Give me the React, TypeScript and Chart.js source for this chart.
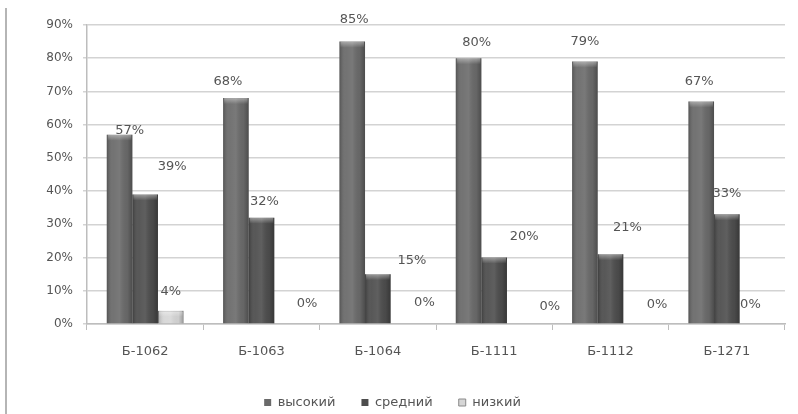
import React, { useEffect, useRef } from "react";
import { Chart, registerables } from "chart.js";

Chart.register(...registerables);

const categories = ["Б-1062", "Б-1063", "Б-1064", "Б-1111", "Б-1112", "Б-1271"];
const seriesNames = ["высокий", "средний", "низкий"];
const highValues = [57, 68, 85, 80, 79, 67];
const midValues = [39, 32, 15, 20, 21, 33];
const lowValues = [4, 0, 0, 0, 0, 0];
const yMax = 90;
const yStep = 10;

// label offsets (dx, dy) relative to bar top-center, mimicking the original's 3D label placement
const labelOffsets = [
  [[10, -4], [-8, -16], [2, -22], [8, -16], [0, -20], [-2, -20]],
  [[27, -28], [3, -16], [34, -14], [30, -21], [17, -27], [0, -21]],
  [[0, -19], [20, -20], [21, -21], [30, -17], [21, -19], [-2, -19]],
];

const barColors = ["#6a6a6a", "#4d4d4d", "#d6d6d6"];
const barBorders = ["#6a6a6a", "#4d4d4d", "#8a8a8a"];
const barBorderWidths = [0, 0, 1];
const FONT = "'DejaVu Sans', sans-serif";

const barStylePlugin = {
  id: "barStyle",
  afterDatasetsDraw(chart: any) {
    const ctx = chart.ctx;
    chart.data.datasets.forEach((ds: any, di: number) => {
      const meta = chart.getDatasetMeta(di);
      meta.data.forEach((bar: any) => {
        const { x, y, base, width } = bar.getProps(["x", "y", "base", "width"], true);
        const h = base - y;
        if (h <= 0.5) return;
        const left = x - width / 2;
        ctx.save();
        const g = ctx.createLinearGradient(left, 0, left + width, 0);
        g.addColorStop(0, "rgba(0,0,0,0.22)");
        g.addColorStop(0.25, "rgba(255,255,255,0.06)");
        g.addColorStop(0.5, "rgba(255,255,255,0.10)");
        g.addColorStop(0.8, "rgba(0,0,0,0.04)");
        g.addColorStop(1, "rgba(0,0,0,0.28)");
        ctx.fillStyle = g;
        ctx.fillRect(left, y, width, h);
        const capH = Math.min(6, h);
        const cg = ctx.createLinearGradient(0, y, 0, y + capH);
        cg.addColorStop(0, "rgba(255,255,255,0.40)");
        cg.addColorStop(1, "rgba(255,255,255,0.0)");
        ctx.fillStyle = cg;
        ctx.fillRect(left + 1, y, width - 2, capH);
        ctx.restore();
      });
    });
  },
};

const labelPlugin = {
  id: "valueLabels",
  afterDatasetsDraw(chart: any) {
    const ctx = chart.ctx;
    ctx.save();
    ctx.font = `13px ${FONT}`;
    ctx.fillStyle = "#555555";
    ctx.textAlign = "center";
    ctx.textBaseline = "middle";
    chart.data.datasets.forEach((ds: any, di: number) => {
      const meta = chart.getDatasetMeta(di);
      meta.data.forEach((bar: any, i: number) => {
        const { x, y } = bar.getProps(["x", "y"], true);
        const [dx, dy] = labelOffsets[di][i];
        ctx.fillText(`${ds.data[i]}%`, x + dx, y + dy);
      });
    });
    ctx.restore();
  },
};

export default function App() {
  const ref = useRef<HTMLCanvasElement | null>(null);

  useEffect(() => {
    if (!ref.current) return;
    const chart = new Chart(ref.current, {
      type: "bar",
      data: {
        labels: categories,
        datasets: [highValues, midValues, lowValues].map((d, i) => ({
          label: seriesNames[i],
          data: d,
          backgroundColor: barColors[i],
          borderColor: barBorders[i],
          borderWidth: barBorderWidths[i],
          barPercentage: 1,
          categoryPercentage: 0.66,
        })),
      },
      options: {
        animation: false,
        responsive: false,
        layout: { padding: { top: 25, right: 13, left: 0, bottom: -5 } },
        plugins: {
          tooltip: { enabled: false },
          legend: {
            position: "bottom",
            labels: {
              boxWidth: 7,
              boxHeight: 7,
              padding: 26,
              color: "#555555",
              font: { family: FONT, size: 13 },
            },
          },
        },
        scales: {
          x: {
            grid: { drawOnChartArea: false, drawTicks: true, tickLength: 6, color: "#bdbdbd", offset: true },
            border: { display: true, color: "#bdbdbd", width: 1.5 },
            ticks: { color: "#555555", font: { family: FONT, size: 13 }, padding: 14 },
            afterFit: (s: any) => { s.height = 46; },
          },
          y: {
            min: 0,
            max: yMax,
            grid: { color: "#d3d3d3", lineWidth: 1.5, tickLength: 4 },
            border: { display: true, color: "#bdbdbd", width: 1.5 },
            ticks: {
              stepSize: yStep,
              color: "#555555",
              font: { family: FONT, size: 12 },
              padding: 10,
              callback: (v: any) => `${v}%`,
            },
            afterFit: (s: any) => { s.width = 87; },
          },
        },
      },
      plugins: [barStylePlugin, labelPlugin],
    });
    return () => chart.destroy();
  }, []);

  return (
    <div style={{ position: "fixed", left: 0, top: 0, width: 798, height: 414, background: "#ffffff" }}>
      <div style={{ position: "absolute", left: 5, top: 8, bottom: 0, width: 2, background: "#b5b5b5" }} />
      <canvas ref={ref} width={798} height={414} style={{ position: "absolute", left: 0, top: 0 }} />
    </div>
  );
}
